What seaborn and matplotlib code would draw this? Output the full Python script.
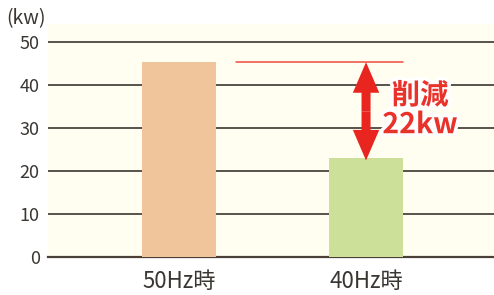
import matplotlib
matplotlib.use("Agg")
import matplotlib.pyplot as plt
import matplotlib.patheffects as pe
import seaborn as sns
import pandas as pd

# Chart data
categories = ["50Hz時", "40Hz時"]
power_kw = [45.3, 23.0]
bar_colors = ["#f0c59b", "#cde09a"]
y_ticks = [0, 10, 20, 30, 40, 50]
reduction_label = "削減\n22kw"
unit_label = "(kw)"

df = pd.DataFrame({"mode": categories, "kw": power_kw})

sns.set_style("white")
plt.rcParams["font.family"] = ["Noto Sans CJK JP", "DejaVu Sans"]

fig = plt.figure(figsize=(4.94, 2.95), dpi=100)
ax = fig.add_axes([48 / 494, (295 - 256.6) / 295, 446 / 494, 232.6 / 295])
ax.set_facecolor("#fffef0")

sns.barplot(data=df, x="mode", y="kw", hue="mode", palette=bar_colors,
            width=0.396, legend=False, ax=ax, saturation=1, zorder=3,
            linewidth=0, edgecolor="none")

ax.set_xlim(-0.70, 1.684)
ax.set_ylim(0, 54.2)
ax.set_yticks(y_ticks)
ax.yaxis.grid(True, color="#3a3632", lw=1.2, zorder=1)
ax.set_axisbelow(True)
ax.set_xlabel("")
ax.set_ylabel("")
for s in ["left", "right", "top"]:
    ax.spines[s].set_visible(False)
ax.spines["bottom"].set_color("#4a4038")
ax.spines["bottom"].set_linewidth(1.6)
ax.tick_params(axis="y", length=0, pad=6, labelsize=13, labelcolor="#3a3632")
ax.tick_params(axis="x", length=0, pad=10, labelsize=16, labelcolor="#3a3632")

# reduction marker
red = "#e8251f"
top, bottom = power_kw[0], power_kw[1] - 0.6
ax.plot([0.305, 1.198], [top, top], color="#ec4a3f", lw=1.1, zorder=4)
mid = (top + bottom) / 2
for end in (top, bottom):
    ax.annotate("", xy=(1, end), xytext=(1, mid),
                arrowprops=dict(arrowstyle="simple,head_length=2.2,head_width=1.9,tail_width=0.65",
                                color=red, mutation_scale=10, shrinkA=0, shrinkB=0, lw=0),
                zorder=5)

ax.text(1.289, 34.0, reduction_label, color="#e8322a", fontsize=20.5, fontweight="bold",
        ha="center", va="center", linespacing=1.05, zorder=6,
        path_effects=[pe.withStroke(linewidth=5, foreground="white")])

fig.text(6 / 494, 1 - 19 / 295, unit_label, fontsize=14, color="#3a3632",
         ha="left", va="center")

fig.savefig("out.png", dpi=100)
